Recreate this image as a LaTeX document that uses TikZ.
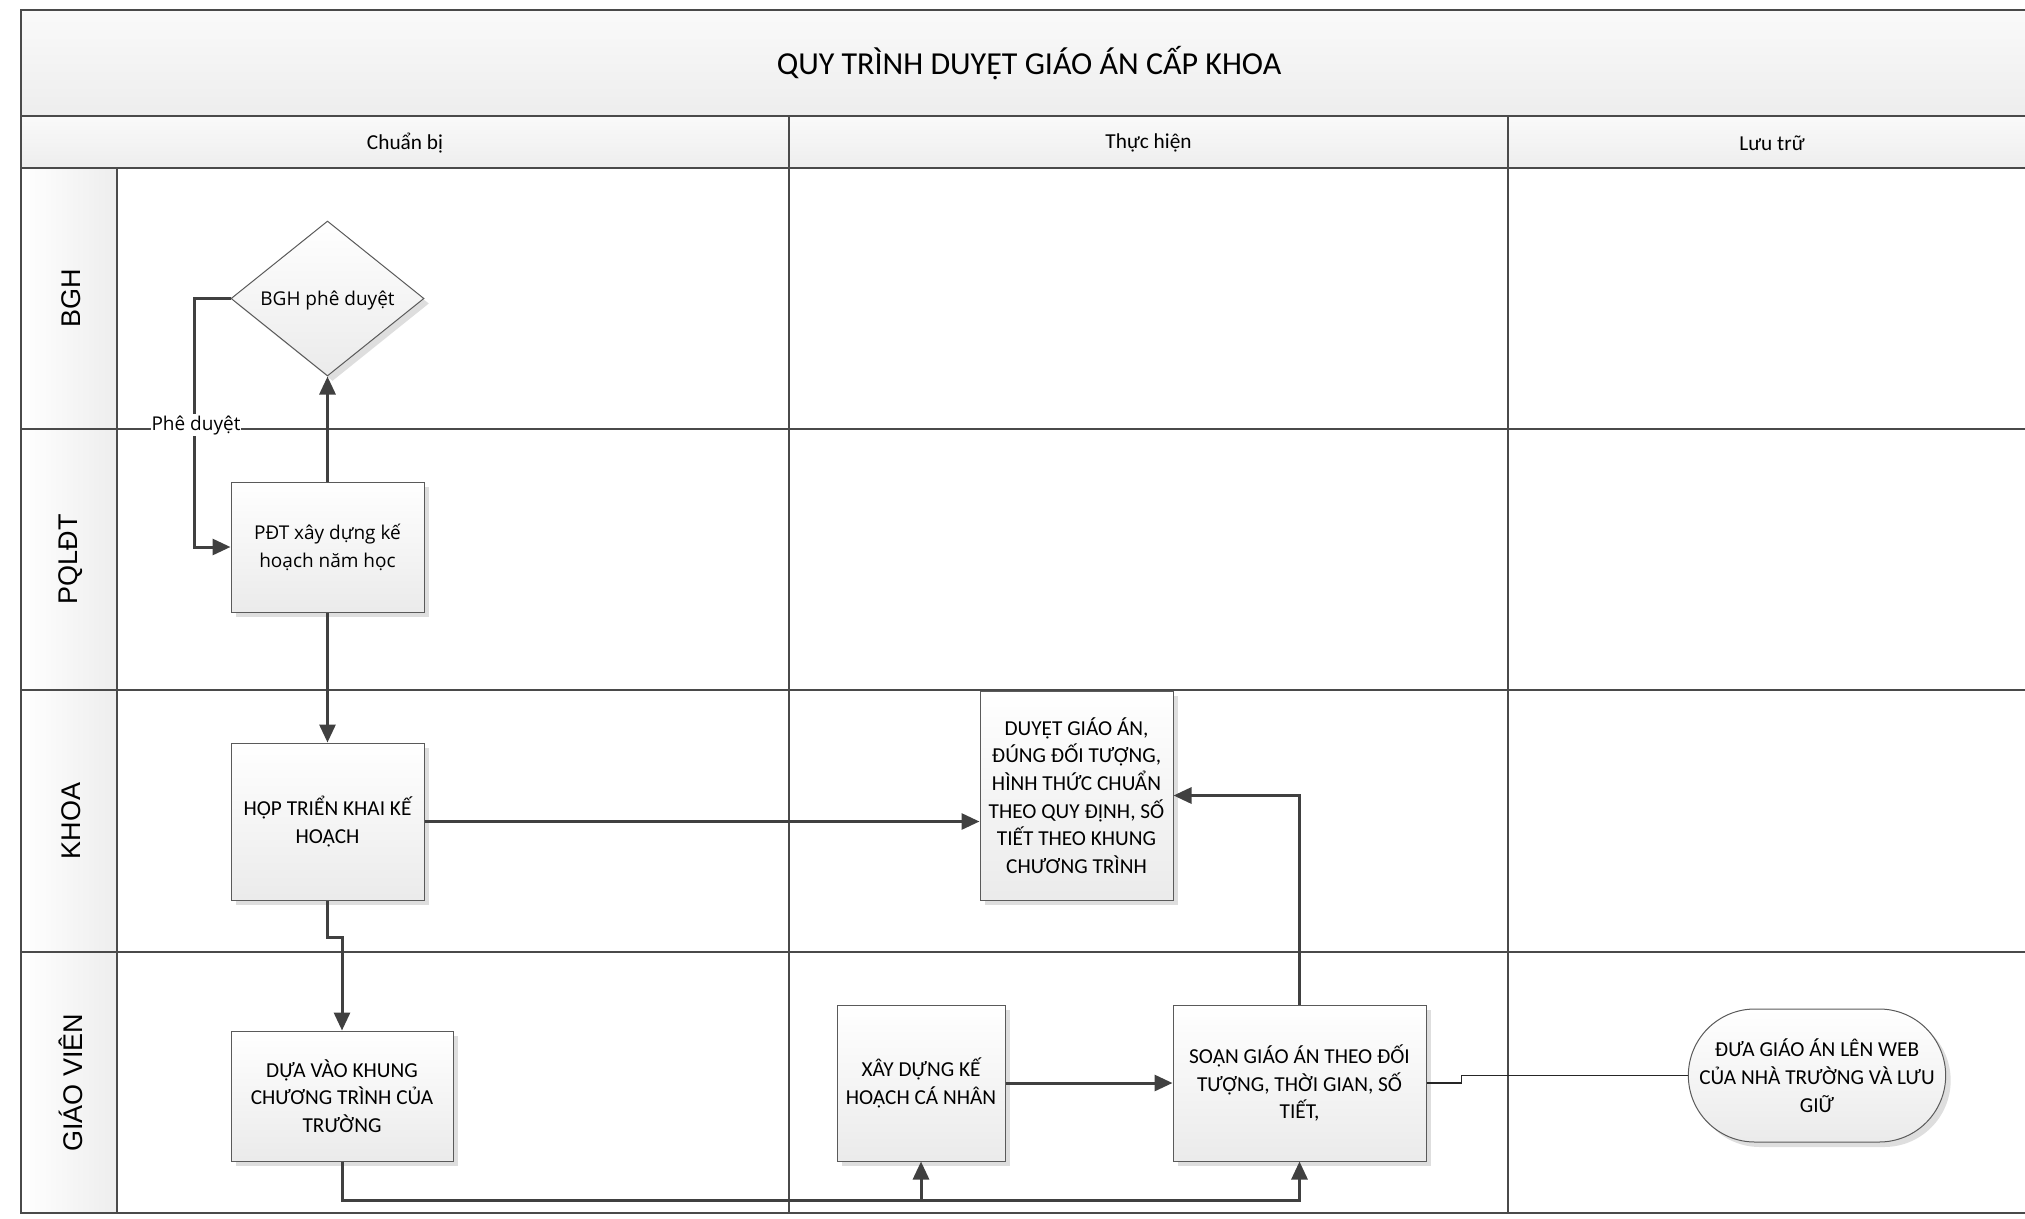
\documentclass[tikz,border=0pt]{standalone}
\usepackage{fontspec}
\setmainfont{Carlito}
\newfontfamily\segoe{Open Sans}
\newfontfamily\arialf{Liberation Sans}
\usetikzlibrary{shapes.geometric,shapes.misc,arrows.meta,shadows,calc}
\definecolor{lineC}{HTML}{4A4A4A}
\definecolor{boxB}{HTML}{5A5A5A}
\definecolor{conC}{HTML}{404040}
\begin{document}
\begin{tikzpicture}[x=1pt,y=1pt,
  laneline/.style={draw=lineC, line width=2.5pt},
  colline/.style={draw=lineC, line width=1.6pt},
  boxfill/.style={draw=boxB, line width=1pt, top color=white, bottom color=black!8,
     drop shadow={shadow xshift=5pt, shadow yshift=-5pt, fill=black!13, opacity=1}},
  stepbox/.style={boxfill, rectangle, align=center, inner sep=0pt,
     font=\fontsize{21.3}{27.7}\selectfont},
  segbox/.style={boxfill, rectangle, align=center, inner sep=0pt,
     font=\segoe\fontsize{19}{28}\selectfont},
  decis/.style={boxfill, diamond, align=center, inner sep=0pt,
     font=\segoe\fontsize{19}{24}\selectfont},
  termbox/.style={boxfill, rounded rectangle, align=center, inner sep=0pt,
     font=\fontsize{21.3}{27.7}\selectfont},
  lanelbl/.style={rotate=90, font=\arialf\fontsize{27}{32}\selectfont},
  hdr/.style={font=\fontsize{21.3}{26}\selectfont},
  con/.style={draw=conC, line width=3pt, -{Triangle[length=18pt,width=16pt]}},
  thincon/.style={draw=black!85, line width=1.5pt},
  edgelbl/.style={fill=white, inner sep=1pt, font=\segoe\fontsize{19}{22}\selectfont}
]
\useasboundingbox (0,0) rectangle (2025,-1218);

% backgrounds
\shade[top color=black!2, bottom color=black!7] (21,-10) rectangle (2036,-116);
\shade[top color=black!2, bottom color=black!7] (21,-116) rectangle (2036,-168);
\shade[left color=white, right color=black!7] (21,-168) rectangle (117,-1213);

% frame and lanes
\draw[laneline] (2036,-10) -- (21,-10) -- (21,-1213) -- (2036,-1213);
\foreach \yy in {-116,-168,-429,-690,-952}
  \draw[laneline] (21,\yy) -- (2036,\yy);
\draw[colline] (117,-168) -- (117,-1213);
\draw[colline] (789,-116) -- (789,-1213);
\draw[colline] (1508,-116) -- (1508,-1213);

% titles
\node (title) at (1029,-63) {\fontsize{32}{38}\selectfont QUY TRÌNH DUYỆT GIÁO ÁN CẤP KHOA};
\node[hdr] (h1) at (405,-143) {Chuẩn bị};
\node[hdr] (h2) at (1148.5,-143) {Thực hiện};
\node[hdr] (h3) at (1772,-143) {Lưu trữ};

\node[lanelbl] (l1) at (71,-298.5) {BGH};
\node[lanelbl] (l2) at (71,-559.5) {PQLĐT};
\node[lanelbl] (l3) at (71,-821) {KHOA};
\node[lanelbl] (l4) at (71,-1082.5) {GIÁO VIÊN};

% shapes
\node[decis, minimum width=193pt, minimum height=155pt, text depth=0pt] (dia) at (327.5,-298.5) {BGH phê duyệt};
\node[segbox, minimum width=193pt, minimum height=130pt] (pdt) at (327.5,-547) {PĐT xây dựng kế\\hoạch năm học};
\node[stepbox, minimum width=193pt, minimum height=157pt] (hop) at (327.5,-821.5) {HỌP TRIỂN KHAI KẾ\\HOẠCH};
\node[stepbox, minimum width=222pt, minimum height=130pt] (dua) at (342,-1096) {DỰA VÀO KHUNG\\CHƯƠNG TRÌNH CỦA\\TRƯỜNG};
\node[stepbox, minimum width=193pt, minimum height=209pt] (duyet) at (1076.5,-795.5) {DUYỆT GIÁO ÁN,\\ĐÚNG ĐỐI TƯỢNG,\\HÌNH THỨC CHUẨN\\THEO QUY ĐỊNH, SỐ\\TIẾT THEO KHUNG\\CHƯƠNG TRÌNH};
\node[stepbox, minimum width=168pt, minimum height=156pt] (xay) at (921,-1083) {XÂY DỰNG KẾ\\HOẠCH CÁ NHÂN};
\node[stepbox, minimum width=253pt, minimum height=156pt] (soan) at (1299.5,-1083) {SOẠN GIÁO ÁN THEO ĐỐI\\TƯỢNG, THỜI GIAN, SỐ\\TIẾT,};
\node[termbox, minimum width=256pt, minimum height=133pt] (term) at (1817,-1075.5) {ĐƯA GIÁO ÁN LÊN WEB\\CỦA NHÀ TRƯỜNG VÀ LƯU\\GIỮ};

% connectors
\draw[con] (pdt.north) -- (dia.south);
\draw[con] (dia.west) -- ++(-36,0) |- (pdt.west);
\draw[con] (pdt.south) -- (hop.north);
\draw[con] (hop.east) -- (hop.east -| duyet.west);
\draw[con] (hop.south) -- ++(0,-37) -| (dua.north);
\draw[con] (dua.south) -- ++(0,-39) -| (soan.south);
\coordinate (j1) at (921,-1200);
\draw[con] (j1) -- (xay.south);
\draw[con] (xay.east) -- (soan.west);
\draw[con] (soan.north) |- (duyet.east);
\draw[thincon] (soan.east) -- ++(35,0) |- (term.west);

\node[edgelbl] (lbl) at (196,-425) {Phê duyệt};
\end{tikzpicture}
\end{document}
